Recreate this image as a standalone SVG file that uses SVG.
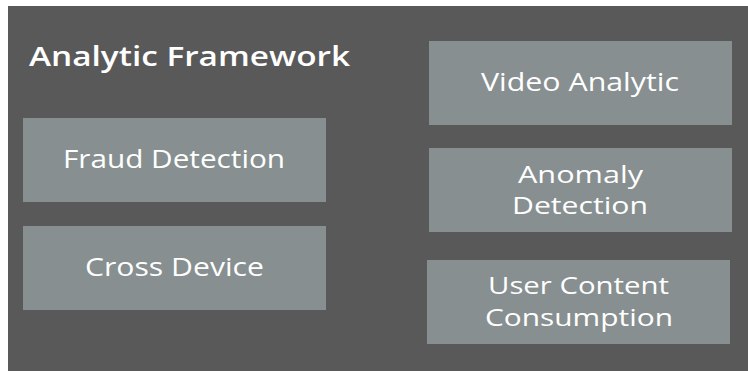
<svg xmlns="http://www.w3.org/2000/svg" width="748" height="371" viewBox="0 0 748 371">
<style>
.bg{fill:#595959}
.box{fill:#878F90}
.t{font-family:"Open Sans","Liberation Sans",sans-serif;font-size:26px;fill:#ffffff;text-anchor:middle}
.t2{font-size:23px}
.title{font-family:"Open Sans","Liberation Sans",sans-serif;font-size:27px;font-weight:600;fill:#ffffff}
</style>
<rect x="0" y="0" width="748" height="371" fill="#ffffff"/>
<rect class="bg" x="8" y="6" width="740" height="365"/>
<text class="title" x="29" y="66" textLength="321" lengthAdjust="spacingAndGlyphs">Analytic Framework</text>
<g id="fraud-detection">
<rect class="box" x="23" y="118" width="303" height="84"/>
<text class="t" x="174" y="168" textLength="222" lengthAdjust="spacingAndGlyphs">Fraud Detection</text>
</g>
<g id="cross-device">
<rect class="box" x="23" y="226" width="303" height="84"/>
<text class="t" x="174.5" y="276" textLength="179" lengthAdjust="spacingAndGlyphs">Cross Device</text>
</g>
<g id="video-analytic">
<rect class="box" x="429" y="41" width="303" height="84"/>
<text class="t" x="580" y="91" textLength="198" lengthAdjust="spacingAndGlyphs">Video Analytic</text>
</g>
<g id="anomaly-detection">
<rect class="box" x="429" y="148" width="303" height="84"/>
<text class="t t2" x="580.5" y="183" textLength="125" lengthAdjust="spacingAndGlyphs">Anomaly</text>
<text class="t t2" x="580" y="214" textLength="136" lengthAdjust="spacingAndGlyphs">Detection</text>
</g>
<g id="user-content-consumption">
<rect class="box" x="427" y="260" width="303" height="84"/>
<text class="t t2" x="578.5" y="294" textLength="181" lengthAdjust="spacingAndGlyphs">User Content</text>
<text class="t t2" x="579" y="326" textLength="188" lengthAdjust="spacingAndGlyphs">Consumption</text>
</g>
<g id="connectors"></g>
</svg>
